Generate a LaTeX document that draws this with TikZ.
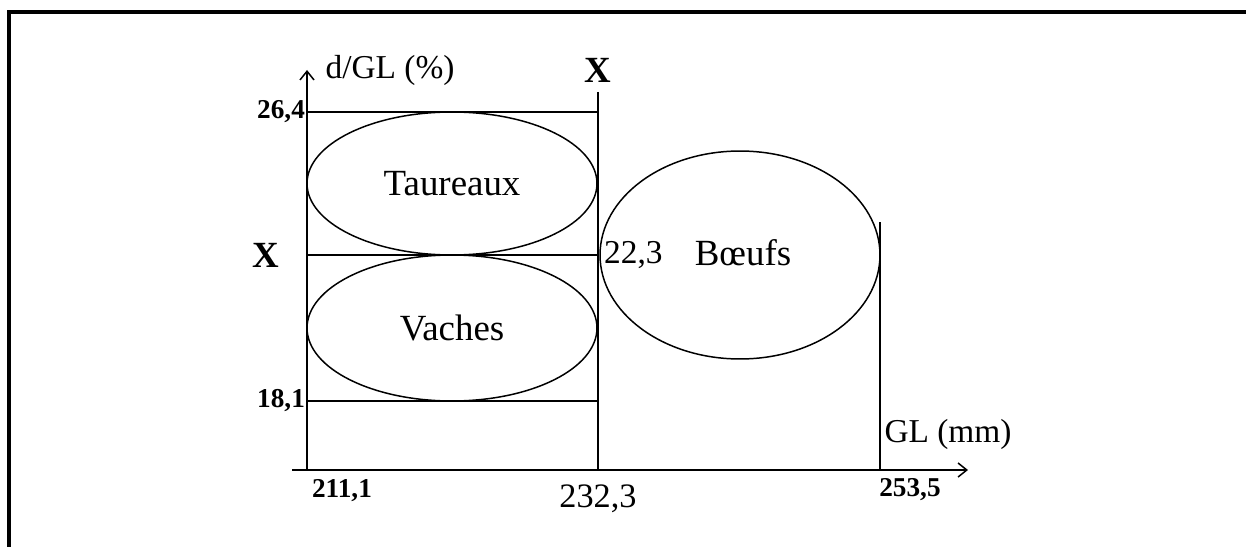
\documentclass[tikz,border=0pt]{standalone}
\usepackage{fontspec}
\setmainfont{Liberation Serif}
\usetikzlibrary{positioning, shapes.geometric, arrows.meta}

\begin{document}
\begin{tikzpicture}[x=0.02cm, y=-0.02cm,
  ln/.style={line width=0.85pt},
  ax/.style={line width=0.85pt, -{Straight Barb[length=5pt, width=8pt]}},
  ell/.style={ellipse, draw, line width=0.85pt, inner sep=0pt, font=\fontsize{21}{24}\selectfont},
  tk/.style={font=\bfseries\fontsize{15.5}{18}\selectfont, inner sep=1pt},
  lb/.style={font=\fontsize{19}{22}\selectfont, inner sep=1pt}]
  \useasboundingbox (0,0) rectangle (1246,547);
  % frame
  \draw[line width=2.2pt] (9,547) -- (9,12) -- (1246,12);
  % axes
  \coordinate (o)  at (307,470);
  \coordinate (xs) at (292,470);
  \coordinate (xe) at (968,470);
  \coordinate (ye) at (307,70);
  \draw[ax] (xs) -- (xe);
  \draw[ax] (o) -- (ye);
  % levels
  \coordinate (y264) at (307,112);
  \coordinate (y223) at (307,255);
  \coordinate (y181) at (307,401);
  \coordinate (r264) at (598,112);
  \coordinate (r223) at (598,255);
  \coordinate (r181) at (598,401);
  \coordinate (vtop) at (598,92);
  \coordinate (vbot) at (598,470);
  \coordinate (btop) at (880,222);
  \coordinate (bbot) at (880,470);
  \draw[ln] (y264) -- (r264);
  \draw[ln] (y223) -- (r223);
  \draw[ln] (y181) -- (r181);
  \draw[ln] (vtop) -- (vbot);
  \draw[ln] (btop) -- (bbot);
  % groups
  \node[ell, minimum width=5.8cm, minimum height=2.86cm] (tau) at (452,183.5) {Taureaux};
  \node[ell, minimum width=5.8cm, minimum height=2.92cm] (vac) at (452,328) {Vaches};
  \node[ell, minimum width=5.6cm, minimum height=4.16cm] (boe) at (740,255) {};
  \node[font=\fontsize{21}{24}\selectfont] (boet) at (743,253) {Bœufs};
  % tick labels
  \node[tk, left=0pt of y264] (l264) {26,4};
  \node[tk, left=0pt of y181] (l181) {18,1};
  \node[tk] (l211) at (342,491) {211,1};
  \node[font=\fontsize{19.5}{22}\selectfont] (l232) at (598,499) {232,3};
  \node[tk] (l253) at (910,490) {253,5};
  \node[font=\fontsize{19}{22}\selectfont, right=0pt of r223] (l223) {22,3};
  % axis names
  \node[lb] (ny) at (390,70) {d/GL (\%)};
  \node[lb] (nx) at (948,434) {GL (mm)};
  \node[font=\bfseries\fontsize{21}{24}\selectfont] (xt) at (598,70) {X};
  \node[font=\bfseries\fontsize{21}{24}\selectfont] (xl) at (266,255) {X};
\end{tikzpicture}
\end{document}
